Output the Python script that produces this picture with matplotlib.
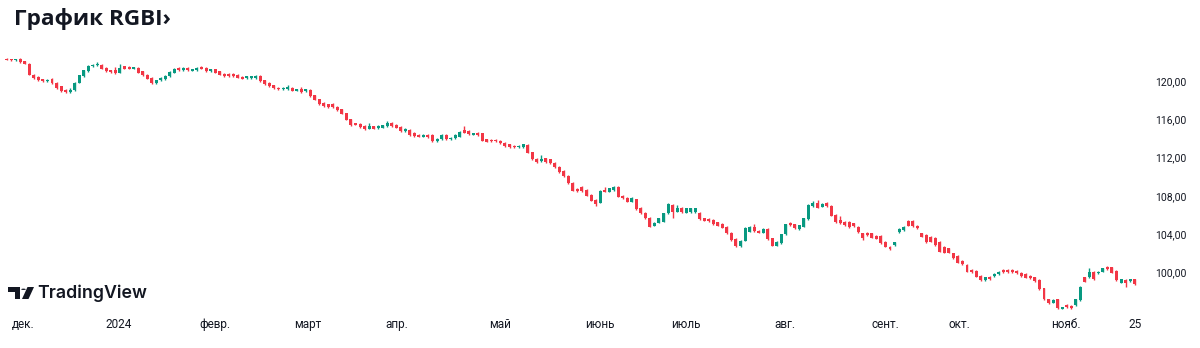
import matplotlib
matplotlib.use("Agg")
import matplotlib.pyplot as plt
from matplotlib.patches import Polygon, Circle
import numpy as np

# ---------------- data (daily candles, RGBI) ----------------
opens = [122.28, 122.27, 122.20, 122.32, 122.04, 121.80, 120.65, 120.41, 120.16, 119.95,
         120.23, 119.78, 119.43, 119.08, 118.84, 119.01, 119.82, 120.48, 121.03, 121.52,
         121.63, 121.70, 121.38, 121.10, 121.10, 120.86, 121.52, 121.50, 121.28, 121.38,
         121.00, 120.65, 120.34, 119.78, 120.06, 120.16, 120.48, 120.86, 121.35, 121.10,
         121.35, 121.07, 121.14, 121.45, 121.35, 121.00, 121.21, 121.00, 120.76, 120.72,
         120.72, 120.65, 120.44, 120.30, 120.30, 120.30, 120.51, 120.06, 119.78, 119.54,
         119.29, 119.15, 119.15, 119.26, 118.98, 119.15, 118.91, 119.08, 118.49, 118.07,
         117.69, 117.55, 117.62, 117.27, 117.03, 116.61, 115.98, 115.57, 115.53, 115.29,
         115.01, 115.25, 115.08, 115.11, 115.28, 115.63, 115.42, 115.21, 114.76, 114.87,
         114.59, 114.38, 114.17, 114.34, 114.34, 113.72, 113.92, 114.34, 113.92, 113.99,
         114.17, 114.87, 114.80, 114.38, 114.59, 114.52, 113.89, 113.82, 113.82, 113.75,
         113.54, 113.37, 113.23, 113.05, 113.05, 113.30, 112.53, 111.83, 111.63, 111.90,
         111.80, 111.45, 111.03, 110.62, 110.09, 109.36, 108.70, 108.94, 108.60, 108.07,
         107.55, 107.27, 108.56, 108.42, 108.60, 108.94, 107.97, 107.79, 107.38, 107.62,
         106.75, 106.23, 105.70, 104.87, 105.18, 105.29, 106.16, 107.03, 106.33, 106.71,
         106.23, 106.26, 106.26, 106.23, 105.64, 105.60, 105.46, 105.22, 105.04, 104.76,
         104.14, 103.48, 102.74, 103.30, 104.24, 104.76, 104.31, 104.14, 104.52, 103.55,
         102.78, 103.03, 103.97, 105.12, 105.01, 104.52, 104.77, 105.53, 106.93, 107.28,
         106.86, 107.28, 106.96, 105.99, 105.47, 105.29, 105.29, 105.12, 104.77, 104.07,
         104.14, 104.07, 103.83, 103.79, 103.20, 102.68, 102.85, 104.25, 104.42, 105.36,
         105.36, 104.84, 104.07, 103.90, 103.72, 103.62, 103.20, 102.68, 102.50, 101.98,
         101.70, 101.22, 100.76, 100.24, 100.17, 99.61, 99.20, 99.54, 99.61, 99.82,
         100.24, 100.24, 100.24, 100.17, 99.96, 99.82, 99.61, 99.47, 99.20, 98.33,
         97.18, 96.83, 97.18, 96.20, 96.58, 96.51, 96.58, 97.11, 99.47, 99.47,
         100.07, 99.89, 100.07, 100.59, 100.52, 100.17, 98.92, 99.20, 99.06, 99.27]

closes = [122.22, 122.20, 122.27, 121.98, 121.80, 120.65, 120.30, 120.06, 119.95, 120.13,
          119.78, 119.26, 118.94, 118.84, 119.08, 119.82, 120.58, 121.10, 121.56, 121.70,
          121.78, 121.28, 121.03, 120.93, 120.83, 121.35, 121.28, 121.28, 121.42, 120.86,
          120.58, 120.23, 119.78, 120.06, 120.30, 120.51, 120.93, 121.28, 121.10, 121.38,
          121.10, 121.21, 121.35, 121.28, 121.00, 121.21, 120.86, 120.65, 120.51, 120.51,
          120.51, 120.34, 120.23, 120.48, 120.48, 120.48, 119.99, 119.68, 119.43, 119.26,
          119.15, 119.26, 119.36, 118.98, 119.12, 118.84, 119.12, 118.39, 118.04, 117.59,
          117.34, 117.24, 117.24, 116.92, 116.58, 115.95, 115.36, 115.43, 115.15, 114.94,
          115.29, 115.01, 115.29, 115.35, 115.56, 115.28, 115.11, 114.76, 114.97, 114.34,
          114.24, 114.17, 114.38, 114.10, 113.72, 113.92, 114.34, 113.92, 114.06, 114.34,
          114.69, 114.59, 114.45, 114.52, 114.34, 113.75, 113.65, 113.68, 113.68, 113.47,
          113.19, 113.05, 113.05, 113.23, 113.37, 112.50, 111.80, 111.52, 111.80, 111.52,
          111.38, 110.96, 110.44, 110.06, 109.29, 108.53, 108.49, 108.46, 108.00, 107.48,
          107.10, 108.53, 108.42, 108.77, 108.94, 107.90, 107.73, 107.38, 107.79, 106.58,
          106.16, 105.64, 104.76, 105.18, 105.64, 106.16, 107.13, 106.33, 106.75, 106.26,
          106.68, 106.68, 106.68, 105.53, 105.39, 105.36, 105.01, 104.87, 104.66, 104.07,
          103.37, 102.74, 103.30, 104.66, 104.76, 104.31, 104.14, 104.52, 103.45, 102.78,
          103.20, 103.97, 105.01, 104.94, 104.59, 104.91, 105.64, 107.03, 107.28, 106.75,
          107.14, 106.93, 105.92, 105.22, 105.12, 104.94, 104.70, 104.84, 104.18, 103.55,
          103.90, 103.62, 103.51, 103.03, 102.68, 102.40, 103.13, 104.52, 104.77, 104.87,
          104.84, 104.59, 103.72, 103.13, 103.20, 102.85, 102.16, 102.05, 102.05, 101.46,
          101.01, 100.87, 100.07, 100.03, 99.54, 99.20, 99.47, 99.27, 99.82, 100.03,
          100.03, 100.03, 100.03, 99.89, 99.61, 99.44, 99.37, 99.09, 98.26, 97.18,
          96.76, 97.11, 96.24, 96.34, 96.34, 96.24, 97.18, 98.50, 99.02, 100.07,
          99.27, 100.07, 100.42, 100.31, 99.96, 99.20, 99.27, 98.85, 99.27, 98.78]

highs = [122.35, 122.34, 122.34, 122.39, 122.11, 121.87, 120.72, 120.48, 120.23, 120.20,
         120.30, 119.85, 119.50, 119.15, 119.25, 119.89, 120.65, 121.17, 121.63, 121.77,
         121.98, 121.77, 121.45, 121.17, 121.45, 121.73, 121.59, 121.57, 121.49, 121.45,
         121.07, 120.72, 120.41, 120.13, 120.37, 120.58, 121.00, 121.35, 121.42, 121.45,
         121.42, 121.28, 121.42, 121.52, 121.42, 121.28, 121.28, 121.07, 120.83, 120.79,
         120.79, 120.72, 120.51, 120.55, 120.55, 120.62, 120.58, 120.13, 119.85, 119.61,
         119.36, 119.33, 119.54, 119.33, 119.19, 119.38, 119.19, 119.15, 118.56, 118.14,
         117.76, 117.62, 117.69, 117.34, 117.10, 116.68, 116.05, 115.64, 115.60, 115.36,
         115.60, 115.32, 115.36, 115.42, 115.81, 115.70, 115.49, 115.28, 115.04, 114.94,
         114.66, 114.45, 114.45, 114.41, 114.41, 113.99, 114.41, 114.41, 114.13, 114.41,
         114.76, 115.28, 114.87, 114.59, 114.66, 114.59, 113.96, 113.89, 113.89, 113.82,
         113.61, 113.44, 113.30, 113.30, 113.44, 113.37, 112.60, 111.90, 112.25, 111.97,
         111.87, 111.52, 111.10, 110.69, 110.16, 109.43, 108.77, 109.01, 108.67, 108.14,
         107.62, 108.60, 108.94, 108.84, 109.01, 109.01, 108.04, 107.86, 107.86, 107.69,
         106.82, 106.30, 105.77, 105.25, 105.71, 106.23, 107.20, 107.10, 107.03, 106.78,
         106.75, 106.75, 106.75, 106.30, 105.71, 105.67, 105.53, 105.29, 105.11, 104.83,
         104.21, 103.55, 103.37, 104.73, 104.83, 105.04, 104.38, 104.59, 104.59, 103.62,
         103.27, 104.04, 105.08, 105.26, 105.08, 104.98, 105.71, 107.10, 107.42, 107.56,
         107.21, 107.35, 107.03, 106.06, 105.88, 105.36, 105.36, 105.19, 104.84, 104.14,
         104.21, 104.14, 103.90, 103.86, 103.27, 102.75, 103.20, 104.66, 104.84, 105.43,
         105.43, 104.91, 104.14, 103.97, 103.79, 103.69, 103.27, 102.75, 102.57, 102.05,
         101.77, 101.29, 100.83, 100.31, 100.24, 99.68, 99.54, 99.61, 99.89, 100.10,
         100.31, 100.31, 100.38, 100.24, 100.03, 99.89, 99.68, 99.54, 99.27, 98.40,
         97.25, 97.18, 97.25, 96.41, 96.65, 96.58, 97.25, 98.57, 99.54, 100.40,
         100.14, 100.14, 100.49, 100.66, 100.59, 100.24, 99.34, 99.27, 99.34, 99.34]

lows = [122.15, 122.13, 122.13, 121.91, 121.73, 120.58, 120.23, 119.99, 119.88, 119.88,
        119.71, 119.19, 118.87, 118.77, 118.77, 118.94, 119.75, 120.41, 120.96, 121.45,
        121.56, 121.21, 120.96, 120.86, 120.76, 120.79, 121.21, 121.21, 121.21, 120.79,
        120.51, 120.16, 119.71, 119.71, 119.99, 120.09, 120.41, 120.79, 121.03, 121.03,
        121.03, 121.00, 121.07, 121.21, 120.93, 120.93, 120.79, 120.58, 120.44, 120.44,
        120.44, 120.27, 120.16, 120.23, 120.23, 120.23, 119.92, 119.61, 119.36, 119.19,
        119.08, 119.08, 119.08, 118.91, 118.91, 118.77, 118.84, 118.32, 117.97, 117.52,
        117.27, 117.17, 117.17, 116.85, 116.51, 115.88, 115.29, 115.36, 115.08, 114.87,
        114.94, 114.94, 115.01, 115.04, 115.21, 115.21, 115.04, 114.69, 114.69, 114.27,
        114.17, 114.10, 114.10, 114.03, 113.65, 113.65, 113.85, 113.85, 113.85, 113.92,
        114.10, 114.52, 114.38, 114.31, 114.27, 113.68, 113.58, 113.61, 113.61, 113.40,
        113.12, 112.98, 112.98, 112.98, 112.98, 112.43, 111.73, 111.45, 111.56, 111.45,
        111.31, 110.89, 110.37, 109.99, 109.22, 108.46, 108.42, 108.39, 107.93, 107.41,
        106.98, 107.20, 108.35, 108.35, 108.53, 107.83, 107.66, 107.31, 107.31, 106.51,
        106.09, 105.57, 104.69, 104.80, 105.11, 105.22, 106.09, 105.70, 106.26, 106.19,
        106.16, 106.19, 106.19, 105.46, 105.32, 105.29, 104.94, 104.80, 104.59, 104.00,
        103.30, 102.60, 102.67, 103.23, 104.17, 104.24, 104.07, 104.07, 103.38, 102.71,
        102.71, 102.96, 103.90, 104.87, 104.52, 104.45, 104.70, 105.46, 106.86, 106.68,
        106.79, 106.86, 105.85, 105.15, 105.05, 104.87, 104.63, 104.77, 104.11, 103.41,
        103.83, 103.55, 103.44, 102.96, 102.61, 102.30, 102.78, 104.10, 104.35, 104.80,
        104.77, 104.52, 103.65, 103.06, 103.13, 102.78, 102.09, 101.98, 101.98, 101.39,
        100.94, 100.80, 100.00, 99.96, 99.47, 99.13, 99.13, 99.20, 99.54, 99.75,
        99.96, 99.96, 99.96, 99.82, 99.54, 99.37, 99.30, 99.02, 98.19, 97.11,
        96.69, 96.76, 96.17, 96.13, 96.27, 96.17, 96.51, 97.04, 98.95, 99.40,
        99.20, 99.82, 100.00, 100.24, 99.89, 99.13, 98.85, 98.50, 98.99, 98.71]

month_labels = ["дек.", "2024", "февр.", "март", "апр.", "май", "июнь",
                "июль", "авг.", "сент.", "окт.", "нояб.", "25"]
month_ticks = [3.6, 24.8, 46, 66.5, 86.2, 108.9, 131, 150, 171.8, 194.1, 210.4, 233.8, 249]
y_ticks = [100, 104, 108, 112, 116, 120]
title = "График RGBI\u203a"

# ---------------- styling ----------------
W, H = 1200, 348
UP = "#089981"
DOWN = "#F23645"
TXT = "#131722"

fig = plt.figure(figsize=(W / 100, H / 100), dpi=100)
fig.patch.set_facecolor("white")

def fx(px):
    return px / W

def fy(py):
    return 1 - py / H

# plot area in pixels
ax_l, ax_r, ax_t, ax_b = 0, 1150, 50, 315
ax = fig.add_axes([fx(ax_l), fy(ax_b), fx(ax_r - ax_l), (ax_b - ax_t) / H])
ax.set_facecolor("white")

o = np.array(opens)
c = np.array(closes)
h = np.array(highs)
l = np.array(lows)
x = np.arange(len(o))
up = c >= o
cols = np.where(up, UP, DOWN)

ax.vlines(x, l, h, colors=cols, linewidth=1.0, zorder=2)
bottom = np.minimum(o, c)
height = np.maximum(np.abs(c - o), 0.1)
ax.bar(x, height, bottom=bottom, width=0.66, color=cols, linewidth=0, zorder=3)

ax.set_xlim(-1.48, 252.4)
ax.set_ylim(95.54, 123.23)

for s in ax.spines.values():
    s.set_visible(False)

ax.yaxis.tick_right()
ax.set_yticks(y_ticks)
ax.set_yticklabels([f"{v:.2f}".replace(".", ",") for v in y_ticks],
                   fontsize=7.5, color=TXT, family="Roboto")
ax.tick_params(axis="y", length=0, pad=3.5)
for lab in ax.get_yticklabels():
    lab.set_horizontalalignment("left")

ax.set_xticks(month_ticks)
ax.set_xticklabels(month_labels, fontsize=8.5, color=TXT, family="Roboto")
ax.tick_params(axis="x", length=0, pad=2.5)

# title
fig.text(fx(14), fy(19), title, fontsize=16.2, fontweight="bold", color=TXT,
         family="Open Sans", va="center", ha="left")

# TradingView logo
logo_col = "#131722"
fig.add_artist(Polygon([(fx(8), fy(287)), (fx(20), fy(287)), (fx(20), fy(299)),
                        (fx(14.5), fy(299)), (fx(14.5), fy(291.5)), (fx(8), fy(291.5))],
                       closed=True, transform=fig.transFigure, color=logo_col, lw=0))
fig.add_artist(Circle((fx(23.5), fy(289.3)), 2.3 / W, transform=fig.transFigure,
                      color=logo_col, lw=0))
fig.add_artist(Polygon([(fx(27.5), fy(287)), (fx(34), fy(287)), (fx(28.5), fy(299)),
                        (fx(22), fy(299))],
                       closed=True, transform=fig.transFigure, color=logo_col, lw=0))
fig.text(fx(37), fy(293), "TradingView", fontsize=12.8, fontweight="semibold",
         color=logo_col, family="Inter", va="center", ha="left")

fig.savefig("out.png", dpi=100, facecolor="white")
